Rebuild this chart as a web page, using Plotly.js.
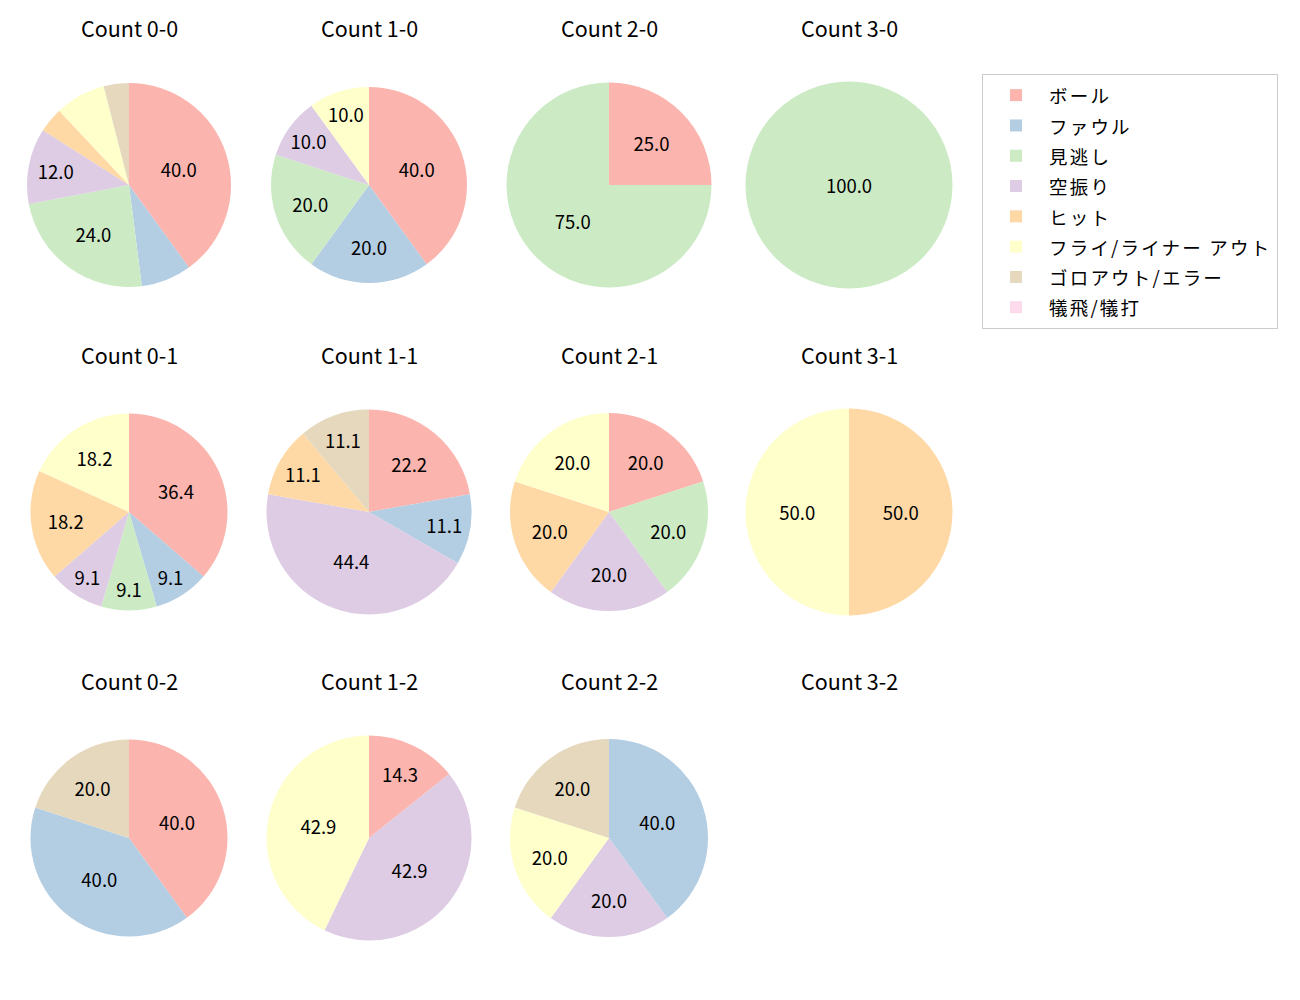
<!DOCTYPE html>
<html>
<head>
<meta charset="utf-8">
<script src="https://cdn.plot.ly/plotly-3.0.1.min.js"></script>
<style>html,body{margin:0;padding:0;background:#fff;}#chart{width:1300px;height:1000px;}</style>
</head>
<body>
<div id="chart"></div>
<script>
// ---- data ----
const categories = ["ボール", "ファウル", "見逃し", "空振り", "ヒット", "フライ/ライナー アウト", "ゴロアウト/エラー", "犠飛/犠打"];
const countTitles = ["Count 0-0", "Count 1-0", "Count 2-0", "Count 3-0",
                     "Count 0-1", "Count 1-1", "Count 2-1", "Count 3-1",
                     "Count 0-2", "Count 1-2", "Count 2-2", "Count 3-2"];
// percentages per category, in the order of `categories`
const count00 = [40.0, 8.0, 24.0, 12.0, 4.0, 8.0, 4.0, 0];
const count10 = [40.0, 20.0, 20.0, 10.0, 0, 10.0, 0, 0];
const count20 = [25.0, 0, 75.0, 0, 0, 0, 0, 0];
const count30 = [0, 0, 100.0, 0, 0, 0, 0, 0];
const count01 = [36.4, 9.1, 9.1, 9.1, 18.2, 18.2, 0, 0];
const count11 = [22.2, 11.1, 0, 44.4, 11.1, 0, 11.1, 0];
const count21 = [20.0, 0, 20.0, 20.0, 20.0, 20.0, 0, 0];
const count31 = [0, 0, 0, 0, 50.0, 50.0, 0, 0];
const count02 = [40.0, 40.0, 0, 0, 0, 0, 20.0, 0];
const count12 = [14.3, 0, 0, 42.9, 0, 42.9, 0, 0];
const count22 = [0, 40.0, 0, 20.0, 0, 20.0, 20.0, 0];
const count32 = null; // no data
const seriesValues = [count00, count10, count20, count30,
                      count01, count11, count21, count31,
                      count02, count12, count22, count32];

// ---- style / layout ----
const colors = ["#fbb4ae", "#b3cde3", "#ccebc5", "#decbe4", "#fed9a6", "#ffffcc", "#e5d8bd", "#fddaec"];
const W = 1300, H = 1000;
const colCenters = [129, 369, 609, 849];
const rowCenters = [185, 512, 838];
const titleY = [27, 354, 680];
const radii = [102, 98, 102.5, 103.5, 98.5, 102.5, 99, 103.5, 98.5, 102.5, 99, 100];
const FONT = '"Noto Sans CJK JP", "Noto Sans", sans-serif';
const legendLabels = categories.map(c => '<span style="font-size:18.5px;letter-spacing:2.2px">' + c + '</span>');

const traces = [];
const annotations = [];
seriesValues.forEach((vals, i) => {
  const col = i % 4, row = Math.floor(i / 4);
  const cx = colCenters[col], cy = rowCenters[row], r = radii[i];
  annotations.push({
    text: countTitles[i], x: cx / W, y: 1 - titleY[row] / H,
    xref: 'paper', yref: 'paper', xanchor: 'center', yanchor: 'middle',
    showarrow: false, font: {family: FONT, size: 21.5, color: '#000'}
  });
  if (!vals) return;
  traces.push({
    type: 'pie',
    labels: legendLabels,
    values: vals,
    text: vals.map(v => v >= 9 ? v.toFixed(1) : ''),
    customdata: categories,
    textinfo: 'text',
    textposition: 'inside',
    insidetextorientation: 'horizontal',
    textfont: {family: FONT, size: 18.5, color: '#000'},
    sort: false,
    direction: 'clockwise',
    rotation: 0,
    marker: {colors: colors, line: {width: 0}},
    domain: {x: [(cx - r) / W, (cx + r) / W], y: [1 - (cy + r) / H, 1 - (cy - r) / H]},
    showlegend: i === 0,
    hovertemplate: '%{customdata}: %{value}<extra></extra>'
  });
});

const layout = {
  width: W, height: H,
  margin: {l: 0, r: 0, t: 0, b: 0},
  paper_bgcolor: '#fff',
  showlegend: true,
  uniformtext: {minsize: 18.5, mode: 'show'},
  legend: {
    x: 982 / W, y: 1 - 74 / H, xanchor: 'left', yanchor: 'top',
    bgcolor: '#fff', bordercolor: '#cccccc', borderwidth: 1,
    font: {family: FONT, size: 21, color: '#000'},
    itemwidth: 56,
    traceorder: 'normal'
  },
  annotations: annotations
};

Plotly.newPlot('chart', traces, layout, {displayModeBar: false});
</script>
</body>
</html>
